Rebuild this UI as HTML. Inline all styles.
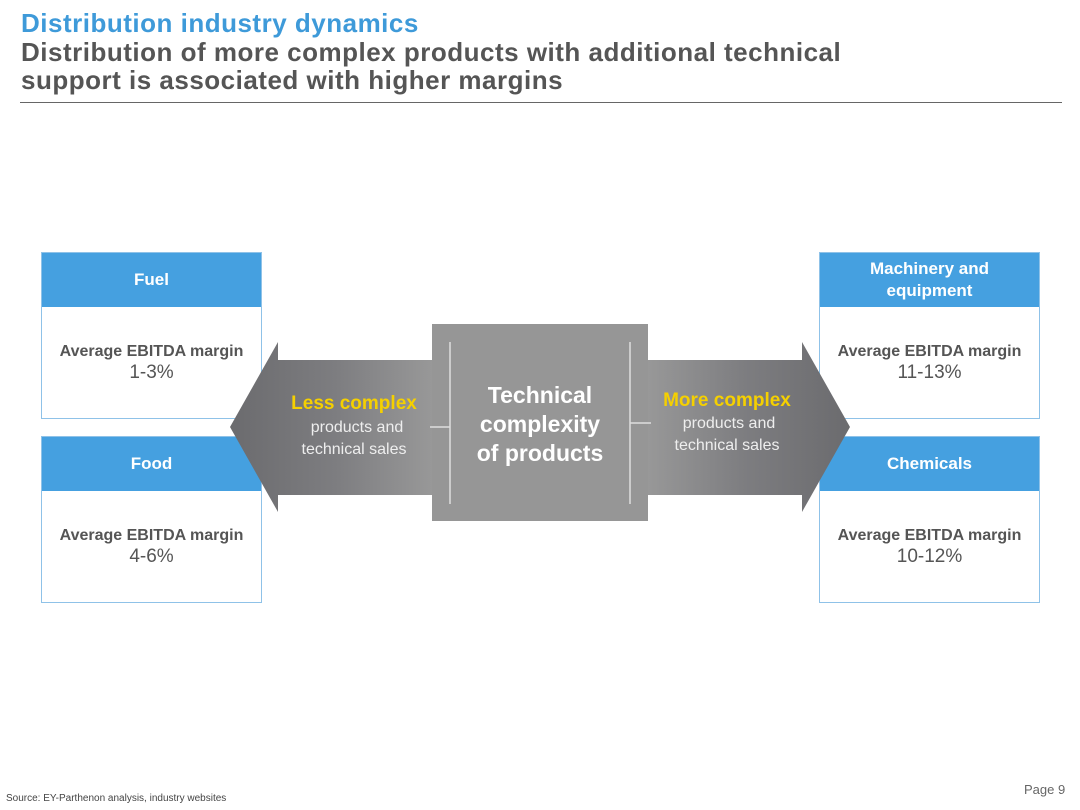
<!DOCTYPE html>
<html><head><meta charset="utf-8"><style>
body{margin:0;width:1080px;height:810px;background:#fff;position:relative;overflow:hidden;font-family:"Liberation Sans",Arial,Helvetica,sans-serif}
.t1{position:absolute;left:21px;top:9px;font-size:26px;font-weight:bold;color:#3e9ad9;line-height:28px;letter-spacing:0.5px}
.t2{position:absolute;left:21px;top:38px;font-size:26px;font-weight:bold;color:#555;line-height:28px;letter-spacing:0.5px;white-space:nowrap}
.rule{position:absolute;left:20px;top:102px;width:1042px;height:1px;background:#666}
.box{position:absolute;width:219px;border:1px solid #8fc2e8;background:#fff}
.hd{background:#45a0e0;color:#fff;font-weight:bold;font-size:17px;text-align:center;display:flex;align-items:center;justify-content:center;height:54px;line-height:22px}
.bd{height:111px;text-align:center;color:#555}
.bd b{display:block;font-size:16px;padding-top:35px;line-height:20px}
.bd span{display:block;font-size:19px;line-height:22px}
.src{position:absolute;left:6px;top:793px;font-size:10px;color:#444}
.pg{position:absolute;left:1024px;top:782px;font-size:13px;color:#666}
</style></head><body>
<div class="t1">Distribution industry dynamics</div>
<div class="t2">Distribution of more complex products with additional technical<br>support is associated with higher margins</div>
<div class="rule"></div>

<div class="box" style="left:41px;top:252px"><div class="hd">Fuel</div><div class="bd"><b>Average EBITDA margin</b><span>1-3%</span></div></div>
<div class="box" style="left:41px;top:436px"><div class="hd">Food</div><div class="bd"><b>Average EBITDA margin</b><span>4-6%</span></div></div>
<div class="box" style="left:819px;top:252px"><div class="hd">Machinery and<br>equipment</div><div class="bd"><b>Average EBITDA margin</b><span>11-13%</span></div></div>
<div class="box" style="left:819px;top:436px"><div class="hd">Chemicals</div><div class="bd"><b>Average EBITDA margin</b><span>10-12%</span></div></div>

<svg width="1080" height="810" style="position:absolute;left:0;top:0">
<defs>
<linearGradient id="gl" x1="0" x2="1" y1="0" y2="0"><stop offset="0" stop-color="#6b6b6e"/><stop offset="0.5" stop-color="#7d7d80"/><stop offset="1" stop-color="#9a9a9a"/></linearGradient>
<linearGradient id="gr" x1="0" x2="1" y1="0" y2="0"><stop offset="0" stop-color="#9a9a9a"/><stop offset="0.5" stop-color="#7d7d80"/><stop offset="1" stop-color="#6b6b6e"/></linearGradient>
</defs>
<polygon points="230,427 278,342 278,360 440,360 440,495 278,495 278,512" fill="url(#gl)"/>
<polygon points="850,427 802,342 802,360 640,360 640,495 802,495 802,512" fill="url(#gr)"/>
<rect x="432" y="324" width="216" height="197" fill="#969696"/>
<line x1="450" y1="342" x2="450" y2="504" stroke="#ddd" stroke-width="1.5"/>
<line x1="630" y1="342" x2="630" y2="504" stroke="#ddd" stroke-width="1.5"/>
<line x1="430" y1="427" x2="450" y2="427" stroke="#ddd" stroke-width="1.5"/>
<line x1="630" y1="423" x2="651" y2="423" stroke="#ddd" stroke-width="1.5"/>
<g style="font-family:'Liberation Sans',Arial,Helvetica,sans-serif" text-anchor="middle">
<text x="540" y="403" font-size="23" font-weight="bold" fill="#fff">Technical</text>
<text x="540" y="432" font-size="23" font-weight="bold" fill="#fff">complexity</text>
<text x="540" y="461" font-size="23" font-weight="bold" fill="#fff">of products</text>
<text x="354" y="409" font-size="19" font-weight="bold" fill="#f5d000">Less complex</text>
<text x="357" y="432" font-size="16" fill="#eee">products and</text>
<text x="354" y="454" font-size="16" fill="#eee">technical sales</text>
<text x="727" y="406" font-size="19" font-weight="bold" fill="#f5d000">More complex</text>
<text x="729" y="428" font-size="16" fill="#eee">products and</text>
<text x="727" y="450" font-size="16" fill="#eee">technical sales</text>
</g>
</svg>
<div class="src">Source: EY-Parthenon analysis, industry websites</div>
<div class="pg">Page 9</div>
</body></html>
